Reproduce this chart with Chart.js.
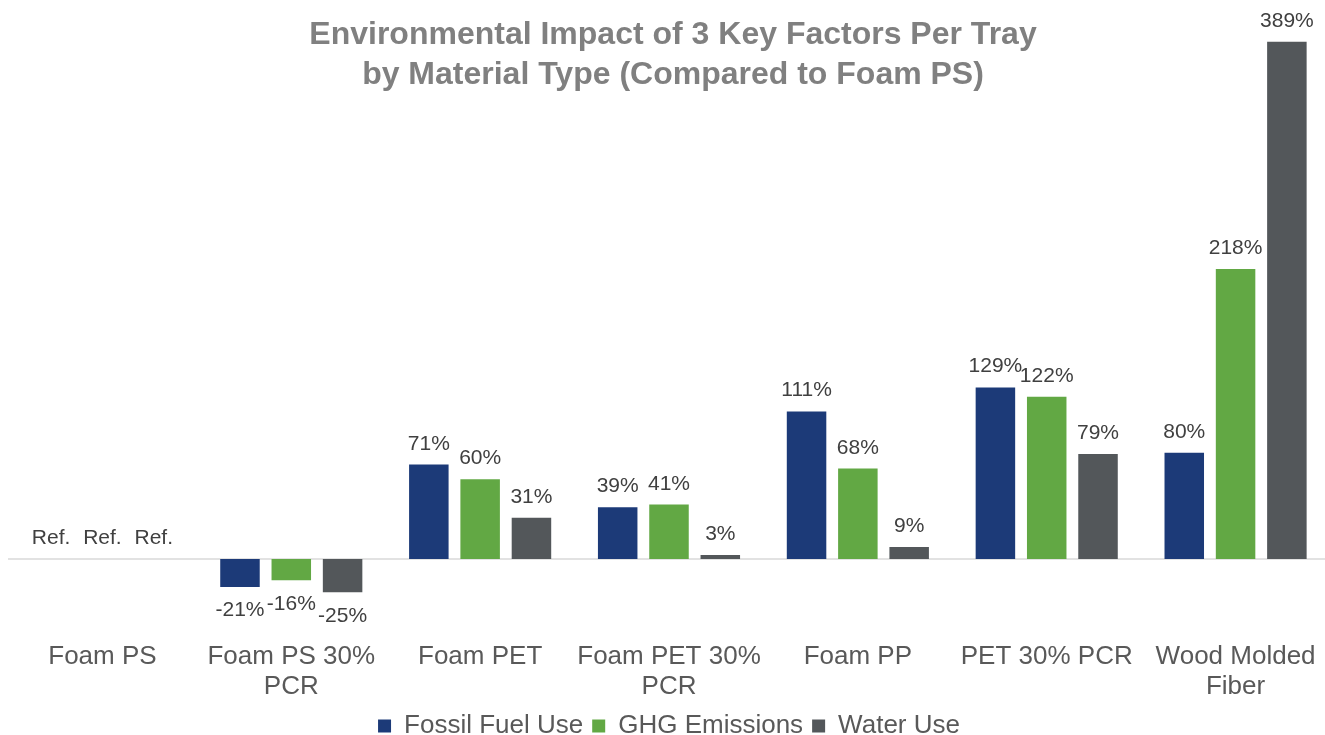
<!DOCTYPE html>
<html>
<head>
<meta charset="utf-8">
<script src="https://cdn.jsdelivr.net/npm/chart.js@4.4.1/dist/chart.umd.min.js"></script>
<style>
	html, body { margin: 0; padding: 0; background: #fff; overflow: hidden; }
	#wrap { width: 1346px; height: 749px; }
</style>
</head>
<body>
<div id="wrap"><canvas id="chart"></canvas></div>
<script>
const categories = [
	'Foam PS',
	['Foam PS 30%', 'PCR'],
	'Foam PET',
	['Foam PET 30%', 'PCR'],
	'Foam PP',
	'PET 30% PCR',
	['Wood Molded', 'Fiber']
];
const fossilFuel = [0, -21, 71, 39, 111, 129, 80];
const ghgEmissions = [0, -16, 60, 41, 68, 122, 218];
const waterUse = [0, -25, 31, 3, 9, 79, 389];
const titleLines = [
	'Environmental Impact of 3 Key Factors Per Tray',
	'by Material Type (Compared to Foam PS)'
];

const fontFamily = '"Liberation Sans", Arial, sans-serif';

const zeroLine = {
	id: 'zeroLine',
	beforeDatasetsDraw(chart) {
		const { ctx, chartArea, scales } = chart;
		const y = scales.y.getPixelForValue(0);
		ctx.save();
		ctx.strokeStyle = '#d9d9d9';
		ctx.lineWidth = 1.5;
		ctx.beginPath();
		ctx.moveTo(chartArea.left, y);
		ctx.lineTo(chartArea.right, y);
		ctx.stroke();
		ctx.restore();
	}
};

const barLabels = {
	id: 'barLabels',
	afterDatasetsDraw(chart) {
		const { ctx } = chart;
		ctx.save();
		ctx.font = `21px ${fontFamily}`;
		ctx.fillStyle = '#404040';
		ctx.textAlign = 'center';
		chart.data.datasets.forEach((ds, i) => {
			const meta = chart.getDatasetMeta(i);
			meta.data.forEach((bar, j) => {
				const v = ds.data[j];
				const text = v === 0 ? 'Ref.' : `${v}%`;
				if (v < 0) {
					ctx.textBaseline = 'top';
					ctx.fillText(text, bar.x, bar.y + 13);
				} else {
					ctx.textBaseline = 'alphabetic';
					ctx.fillText(text, bar.x, bar.y - 15);
				}
			});
		});
		ctx.restore();
	}
};

const drawnTitle = {
	id: 'drawnTitle',
	afterDraw(chart) {
		const { ctx } = chart;
		ctx.save();
		ctx.font = `bold 32px ${fontFamily}`;
		ctx.fillStyle = '#808080';
		ctx.textAlign = 'center';
		ctx.textBaseline = 'middle';
		titleLines.forEach((line, i) => ctx.fillText(line, chart.width / 2, 35 + i * 40));
		ctx.restore();
	}
};

new Chart(document.getElementById('chart'), {
	type: 'bar',
	data: {
		labels: categories,
		datasets: [
			{ label: 'Fossil Fuel Use', data: fossilFuel, backgroundColor: '#1c3a78' },
			{ label: 'GHG Emissions', data: ghgEmissions, backgroundColor: '#62a844' },
			{ label: 'Water Use', data: waterUse, backgroundColor: '#53575a' }
		]
	},
	options: {
		responsive: true,
		maintainAspectRatio: false,
		animation: false,
		categoryPercentage: 0.815,
		barPercentage: 0.77,
		layout: { padding: { top: 27, left: 8, right: 16, bottom: 0 } },
		scales: {
			x: {
				grid: { display: false },
				border: { display: false },
				ticks: {
					color: '#595959',
					font: { family: fontFamily, size: 26, lineHeight: 1.15 },
					padding: 2,
					maxRotation: 0,
					autoSkip: false
				}
			},
			y: {
				display: false,
				min: -55,
				max: 400
			}
		},
		plugins: {
			legend: {
				position: 'bottom',
				labels: {
					color: '#595959',
					font: { family: fontFamily, size: 26 },
					boxWidth: 13,
					boxHeight: 13,
					padding: 9
				}
			},
			tooltip: { enabled: false }
		}
	},
	plugins: [zeroLine, barLabels, drawnTitle]
});
</script>
</body>
</html>
